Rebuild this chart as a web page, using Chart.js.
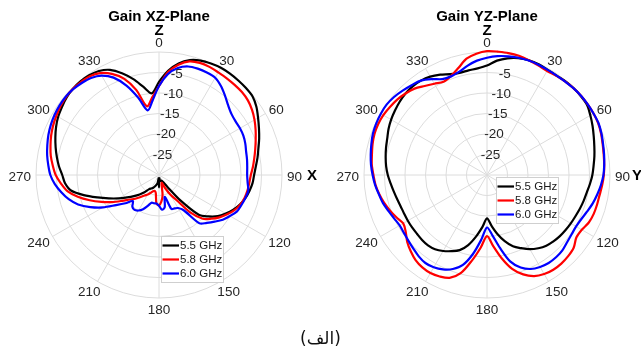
<!DOCTYPE html>
<html>
<head>
<meta charset="utf-8">
<script src="https://cdn.jsdelivr.net/npm/chart.js@4.4.1/dist/chart.umd.min.js"></script>
<style>
  html, body { margin: 0; padding: 0; background: #fff; }
  #wrap { position: relative; width: 641px; height: 353px; overflow: hidden; background: #fff; }
  canvas { position: absolute; top: 0; }
  #cap { position: absolute; left: 0; width: 641px; top: 327px; text-align: center;
         font: 17px "DejaVu Sans", sans-serif; color: #111; line-height: 22px; }
</style>
</head>
<body>
<div id="wrap">
  <canvas id="xz" width="320" height="353" style="left:0"></canvas>
  <canvas id="yz" width="321" height="353" style="left:320px"></canvas>
  <div id="cap" dir="rtl">(الف)</div>
</div>
<script>
// Angular positions (degrees, clockwise from the Z axis) of every sample
const angles = [0, 5, 10, 15, 20, 25, 30, 35, 40, 45, 50, 55, 60, 65, 70, 75, 80, 85,
  90, 95, 100, 105, 110, 115, 120, 125, 130, 135, 140, 145, 150, 155, 160, 165, 170, 175,
  180, 185, 190, 195, 200, 205, 210, 215, 220, 225, 230, 235, 240, 245, 250, 255, 260, 265,
  270, 275, 280, 285, 290, 295, 300, 305, 310, 315, 320, 325, 330, 335, 340, 345, 350, 355];

// Labelled angle ticks and gain (dB) ring labels
const angleTicks = [0, 30, 60, 90, 120, 150, 180, 210, 240, 270, 300, 330];
const gainTicks = [-25, -20, -15, -10, -5];
const freqLabels = ['5.5 GHz', '5.8 GHz', '6.0 GHz'];

// Gain (dB) in the XZ plane
const xz55 = [-7.3, -4.5, -2.4, -1.0, -0.3, 0, 0.2, 0.2, 0.1, 0, -0.2, -1.0, -2.1, -3.1, -4.0, -4.9, -5.6, -6.3,
  -6.8, -7.1, -7.6, -8.2, -9.0, -10.0, -11.2, -12.5, -14.3, -16.3, -22, -26.5, -28, -28.5, -28.5, -28.5, -28.5, -29.2,
  -27, -29.2, -28, -27.5, -27, -26.5, -26.2, -25.8, -24.5, -23.3, -22, -20.5, -18.6, -16.5, -14, -11, -8.2, -7,
  -6.4, -5.5, -4.7, -3.9, -3.1, -2.3, -1.6, -1.1, -0.6, -0.3, -0.2, -0.3, -0.7, -1.7, -3.6, -5.8, -8.2, -10.0];
const xz58 = [-8.3, -4.8, -2.7, -1.3, -0.9, -0.9, -1.1, -1.2, -1.3, -1.4, -1.7, -2.3, -3.1, -4.0, -4.9, -5.7, -6.4, -7.0,
  -7.6, -7.9, -8.1, -8.4, -8.9, -9.7, -10.8, -12.0, -13.4, -14.9, -18, -22.5, -24.5, -26.5, -28, -27.5, -25, -23.5,
  -22.6, -23, -25.5, -26, -25.8, -25.2, -24.5, -23.9, -23, -21.8, -20.7, -19, -16.8, -14.5, -12, -9.5, -7.3, -6,
  -4.8, -4.0, -3.2, -2.6, -2.0, -1.5, -1.1, -0.7, -0.4, -0.3, -0.4, -0.6, -1.3, -2.8, -5.0, -8.5, -13.0, -11.0];
const xz60 = [-8.3, -5.3, -3.5, -2.6, -2.4, -2.4, -2.6, -3.6, -4.9, -6.1, -6.9, -7.2, -7.2, -7.3, -7.6, -8.0, -8.2, -8.4,
  -8.5, -8.3, -7.9, -8.2, -8.6, -9.0, -10.0, -11.0, -12.3, -13.5, -14.6, -19.5, -20.7, -21, -21.2, -24.5, -22, -21.5,
  -22.5, -23, -23, -23, -22, -20.8, -20, -19.6, -19.9, -21, -19.3, -17.2, -14.2, -11.5, -9, -7.2, -5.8, -4.5,
  -3.5, -2.9, -2.3, -1.8, -1.3, -0.9, -0.6, -0.4, -0.3, -0.4, -0.7, -1.1, -2.0, -3.8, -6.8, -10.5, -14.0, -11.8];

// Gain (dB) in the YZ plane
const yz55 = [-3.3, -2.0, -1.1, -0.5, -0.2, -0.2, -0.4, -0.4, -0.2, -0.1, -0.1, -0.2, -0.9, -1.6, -2.3, -2.9, -3.4, -3.9,
  -4.3, -4.8, -5.3, -5.6, -5.9, -6.2, -6.4, -6.6, -6.8, -7.1, -7.5, -8.2, -9.1, -10.3, -11.5, -13.3, -15.4, -17.6,
  -19.4, -17.3, -14.8, -12.3, -10.5, -9.5, -8.6, -7.9, -7.6, -7.6, -7.7, -7.7, -7.7, -7.7, -7.6, -7.3, -6.9, -6.4,
  -5.8, -5.3, -4.9, -4.5, -4.1, -3.5, -3.0, -2.6, -2.2, -1.9, -1.8, -1.9, -2.3, -3.0, -3.8, -4.2, -4.1, -3.9];
const yz58 = [0.2, 0.2, 0.2, 0.1, -0.2, -0.5, -0.7, -0.5, -0.3, -0.1, 0, 0, 0, -0.1, -0.4, -0.8, -1.1, -1.3,
  -1.5, -1.8, -2.1, -2.2, -2.3, -2.6, -3.3, -3.4, -2.4, -2.0, -1.8, -1.8, -2.1, -2.8, -4.2, -6.3, -9.4, -12.6,
  -15.1, -12.2, -8.8, -5.2, -3.3, -2.7, -2.4, -2.5, -2.9, -3.7, -4.6, -5.8, -6.4, -5.6, -4.8, -4.0, -3.3, -2.7,
  -2.3, -1.8, -1.5, -1.1, -0.8, -0.7, -0.8, -1.1, -1.4, -1.9, -2.5, -3.5, -4.3, -4.9, -4.3, -3.0, -1.2, -0.3];
const yz60 = [-1.4, -0.9, -0.6, -0.4, -0.3, -0.3, -0.4, -0.4, -0.3, -0.1, 0, 0, 0, 0, -0.3, -0.7, -1.0, -1.3,
  -1.6, -2.1, -2.7, -3.3, -4.0, -4.6, -4.9, -4.8, -4.5, -4.0, -3.8, -3.8, -4.1, -4.7, -6.0, -8.2, -12.0, -15.3,
  -17.2, -14.2, -10.5, -7.3, -5.6, -4.6, -4.0, -3.8, -4.1, -4.6, -5.0, -5.3, -5.4, -5.0, -4.4, -3.7, -3.2, -2.6,
  -2.1, -1.6, -1.2, -0.8, -0.4, -0.2, -0.1, -0.1, -0.4, -0.9, -1.4, -1.9, -3.0, -4.2, -4.4, -3.9, -2.9, -2.0];

const seriesColors = ['#000000', '#ff0000', '#0000ff'];
const gridColor = '#dcdcdc';
const textColor = '#262626';
const labelFont = '13.5px "Liberation Sans", Arial, sans-serif';
const boldFont = 'bold 15px "Liberation Sans", Arial, sans-serif';

// Draws titles, axis letters, angle/gain labels and the boxed legend
const polarDecor = {
  id: 'polarDecor',
  afterDraw(chart, args, opts) {
    const s = chart.scales.r;
    const ctx = chart.ctx;
    ctx.save();
    ctx.fillStyle = textColor;
    ctx.font = labelFont;
    ctx.textAlign = 'center';
    ctx.textBaseline = 'middle';

    // gain labels along the 10° spoke
    const tickIdx = angles.indexOf(10);
    gainTicks.forEach(v => {
      const p = s.getPointPosition(tickIdx, s.getDistanceFromCenterForValue(v));
      ctx.fillText(String(v), p.x, p.y);
    });

    // angle labels just outside the outer ring
    let rightEdge = s.xCenter + s.drawingArea;
    angleTicks.forEach(deg => {
      const i = angles.indexOf(deg);
      const txt = String(deg);
      const w = ctx.measureText(txt).width;
      const p = s.getPointPosition(i, s.drawingArea + 5);
      const cx = p.x + Math.cos(p.angle) * w / 2;
      const cy = p.y + Math.sin(p.angle) * 5.5;
      ctx.fillText(txt, cx, cy + 2);
      if (deg === 90) rightEdge = cx + w / 2;
    });

    // title and axis letters
    ctx.font = boldFont;
    ctx.fillStyle = '#000';
    ctx.fillText(opts.title, s.xCenter, 17);
    ctx.fillText(opts.top, s.xCenter, 31);
    ctx.textAlign = 'left';
    ctx.fillText(opts.right, rightEdge + opts.rightGap, s.yCenter + 0.5);

    // legend box
    const bx = s.xCenter + opts.legendX, by = s.yCenter + opts.legendY;
    const bw = 62, bh = 46;
    ctx.fillStyle = '#fff';
    ctx.fillRect(bx, by, bw, bh);
    ctx.strokeStyle = '#cfcfcf';
    ctx.lineWidth = 1;
    ctx.strokeRect(bx + 0.5, by + 0.5, bw, bh);
    ctx.font = '11.5px "Liberation Sans", Arial, sans-serif';
    ctx.textBaseline = 'middle';
    chart.data.datasets.forEach((ds, k) => {
      const y = by + 9.5 + k * 14;
      ctx.strokeStyle = ds.borderColor;
      ctx.lineWidth = 2.2;
      ctx.beginPath();
      ctx.moveTo(bx + 1.5, y);
      ctx.lineTo(bx + 18, y);
      ctx.stroke();
      ctx.fillStyle = '#1a1a1a';
      ctx.fillText(ds.label, bx + 19, y + 0.5);
    });
    ctx.restore();
  }
};

function makePolar(id, series, decor, padding) {
  return new Chart(document.getElementById(id), {
    type: 'radar',
    data: {
      labels: angles,
      datasets: series.map((d, k) => ({
        label: freqLabels[k],
        data: d,
        borderColor: seriesColors[k],
        backgroundColor: seriesColors[k],
        borderWidth: 2.2,
        fill: false,
        pointRadius: 0,
        tension: 0.3,
        order: 3 - k
      }))
    },
    options: {
      responsive: false,
      animation: false,
      devicePixelRatio: 1,
      layout: { padding },
      plugins: {
        legend: { display: false },
        tooltip: { enabled: false },
        polarDecor: decor
      },
      scales: {
        r: {
          min: -30,
          max: 0,
          ticks: { stepSize: 5, display: false },
          pointLabels: { display: false },
          grid: { circular: true, color: gridColor, lineWidth: 1 },
          angleLines: {
            display: true,
            lineWidth: 1,
            color: ctx => (angleTicks.includes(angles[ctx.index]) ? gridColor : 'rgba(0,0,0,0)')
          }
        }
      }
    },
    plugins: [polarDecor]
  });
}

makePolar('xz', [xz55, xz58, xz60],
  { title: 'Gain XZ-Plane', top: 'Z', right: 'X', rightGap: 5, legendX: 2, legendY: 61 },
  { left: 36, right: 38, top: 52, bottom: 55 });
makePolar('yz', [yz55, yz58, yz60],
  { title: 'Gain YZ-Plane', top: 'Z', right: 'Y', rightGap: 2, legendX: 9, legendY: 2 },
  { left: 44, right: 31, top: 52, bottom: 55 });
</script>
</body>
</html>
